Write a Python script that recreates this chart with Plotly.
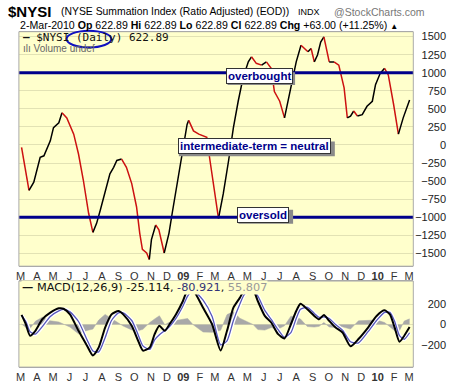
import plotly.graph_objects as go

# ---------------- data ----------------
nysi_dates = ["2008-03-03","2008-03-17","2008-03-26","2008-04-07","2008-04-14","2008-04-26","2008-05-02",
              "2008-05-12","2008-05-18","2008-05-27","2008-06-09","2008-06-18","2008-06-27","2008-07-07",
              "2008-07-15","2008-07-22","2008-07-29","2008-08-07","2008-08-16","2008-08-23","2008-08-29",
              "2008-09-07","2008-09-16","2008-09-26","2008-10-05","2008-10-11","2008-10-16","2008-10-24",
              "2008-10-29","2008-11-02","2008-11-10","2008-11-16","2008-11-26","2008-12-05","2008-12-11",
              "2008-12-17","2008-12-26","2009-01-02","2009-01-08","2009-01-11","2009-01-20","2009-01-30",
              "2009-02-08","2009-02-14","2009-02-20","2009-03-01","2009-03-08","2009-03-17","2009-03-27",
              "2009-04-05","2009-04-14","2009-04-23","2009-05-03","2009-05-09","2009-05-18","2009-05-28",
              "2009-06-06","2009-06-15","2009-06-21","2009-07-01","2009-07-10","2009-07-19","2009-08-01",
              "2009-08-10","2009-08-16","2009-08-23","2009-08-29","2009-09-04","2009-09-10","2009-09-16",
              "2009-09-22","2009-10-02","2009-10-11","2009-10-20","2009-10-30","2009-11-05","2009-11-11",
              "2009-11-17","2009-11-24","2009-12-03","2009-12-12","2009-12-22","2009-12-28","2010-01-06",
              "2010-01-14","2010-01-21","2010-01-31","2010-02-09","2010-02-18","2010-03-02"]
nysi_values = [-35,-630,-515,-170,-150,57,240,
               308,445,375,150,-125,-485,-945,
               -1210,-1085,-900,-630,-400,-310,-215,
               -195,-310,-535,-855,-1220,-1445,-1495,
               -1585,-1310,-1107,-1175,-1495,-1220,-945,
               -675,-310,10,285,340,195,150,
               125,105,-215,-675,-1015,-675,-215,
               240,605,925,1150,1220,1130,1105,
               1150,1060,740,605,375,695,1150,
               1380,1335,1290,1335,1150,1245,1425,
               1495,1150,1150,1105,790,375,400,
               470,400,420,535,605,835,995,
               1060,970,560,150,375,623]

macd_dates = ["2008-03-03","2008-03-11","2008-03-19","2008-03-29","2008-04-11","2008-04-26","2008-05-12",
              "2008-05-21","2008-06-02","2008-06-18","2008-07-04","2008-07-15","2008-07-26","2008-08-07",
              "2008-08-19","2008-09-01","2008-09-10","2008-09-26","2008-10-08","2008-10-17","2008-10-30",
              "2008-11-08","2008-11-17","2008-11-27","2008-12-06","2008-12-18","2008-12-31","2009-01-09",
              "2009-01-19","2009-02-07","2009-02-24","2009-03-12","2009-03-24","2009-04-05","2009-04-17",
              "2009-04-26","2009-05-12","2009-05-21","2009-06-03","2009-06-15","2009-06-28","2009-07-10",
              "2009-07-22","2009-08-01","2009-08-09","2009-08-22","2009-09-04","2009-09-13","2009-09-22",
              "2009-10-02","2009-10-14","2009-10-27","2009-11-11","2009-11-26","2009-12-14","2009-12-30",
              "2010-01-14","2010-01-24","2010-02-02","2010-02-11","2010-02-20","2010-03-02"]
macd_values = [95,3,-110,-62,52,117,160,
               156,100,-62,-208,-305,-225,-30,
               100,133,100,-13,-160,-257,-225,
               -95,-13,-62,3,100,230,340,
               340,166,3,-257,-62,166,263,
               340,340,230,85,20,-95,-137,
               3,133,205,150,85,52,95,
               36,-30,-78,-215,-143,-30,85,
               140,100,-30,-170,-110,-25]
signal_values = [90,30,-70,-95,-20,80,135,
                 150,125,30,-150,-260,-270,-130,
                 40,115,115,40,-100,-210,-245,
                 -150,-100,-60,-20,60,180,280,
                 340,240,80,-200,-160,40,200,
                 300,340,280,140,50,-50,-125,
                 -80,60,150,170,110,70,75,
                 60,0,-55,-170,-180,-70,40,
                 120,120,30,-110,-145,-81]

month_ticks = ["2008-03-01","2008-04-01","2008-05-01","2008-06-01","2008-07-01","2008-08-01","2008-09-01",
               "2008-10-01","2008-11-01","2008-12-01","2009-01-01","2009-02-01","2009-03-01","2009-04-01",
               "2009-05-01","2009-06-01","2009-07-01","2009-08-01","2009-09-01","2009-10-01","2009-11-01",
               "2009-12-01","2010-01-01","2010-02-01","2010-03-01"]
month_labels = ["M","A","M","J","J","A","S","O","N","D","<b>09</b>","F","M","A",
                "M","J","J","A","S","O","N","D","<b>10</b>","F","M"]
quarter_ticks = ["2008-04-01","2008-07-01","2008-10-01","2009-01-01","2009-04-01","2009-07-01",
                 "2009-10-01","2010-01-01"]
main_ticks = [1500,1250,1000,750,500,250,0,-250,-500,-750,-1000,-1250,-1500]
macd_ticks = [200,0,-200]
levels = [1000,-1000]

# ---------------- figure ----------------
W, H = 461, 383
FONT = "Liberation Sans, Arial, sans-serif"
BG = "#FFFFCC"
GRID = "#E2E2B4"
VGRID = "#C8C8A0"

fig = go.Figure()

# main line coloured by direction (black up, red down)
runs = []
start = 0
cur = None
for i in range(1, len(nysi_values)):
    up = nysi_values[i] >= nysi_values[i - 1]
    if cur is None:
        cur = up
    elif up != cur:
        runs.append((start, i - 1, cur))
        start = i - 1
        cur = up
runs.append((start, len(nysi_values) - 1, cur))
for s, e, up in runs:
    fig.add_trace(go.Scatter(x=nysi_dates[s:e + 1], y=nysi_values[s:e + 1], mode="lines",
                             line=dict(color="#000000" if up else "#CC1111", width=1.5),
                             xaxis="x", yaxis="y", showlegend=False, hoverinfo="skip"))

# MACD panel
hist = [m - s for m, s in zip(macd_values, signal_values)]
fig.add_trace(go.Scatter(x=macd_dates, y=hist, mode="lines", fill="tozeroy",
                         line=dict(color="#A8A8A8", width=0.5), fillcolor="#A8A8A8",
                         xaxis="x2", yaxis="y2", showlegend=False))
fig.add_trace(go.Scatter(x=macd_dates, y=signal_values, mode="lines",
                         line=dict(color="#FFFFFF", width=4, shape="spline", smoothing=0.6),
                         xaxis="x2", yaxis="y2", showlegend=False))
fig.add_trace(go.Scatter(x=macd_dates, y=signal_values, mode="lines",
                         line=dict(color="#5555BB", width=1.3, shape="spline", smoothing=0.6),
                         xaxis="x2", yaxis="y2", showlegend=False))
fig.add_trace(go.Scatter(x=macd_dates, y=macd_values, mode="lines",
                         line=dict(color="#000000", width=2, shape="spline", smoothing=0.6),
                         xaxis="x2", yaxis="y2", showlegend=False))

xdom = [16 / W, 413 / W]
ydom_main = [1 - 268 / H, 1 - 31 / H]
ydom_macd = [1 - 370 / H, 1 - 283 / H]
xrange = ["2008-02-27", "2010-03-09"]
ypos = 446 / W

common_x = dict(domain=xdom, range=xrange, type="date", tickmode="array", tickvals=month_ticks,
                ticktext=month_labels, showgrid=False, ticks="", zeroline=False,
                tickfont=dict(family=FONT, size=11, color="#333333"), showline=True,
                linecolor="#AAAAAA", mirror=True)

fig.update_layout(
    width=W, height=H, margin=dict(l=0, r=0, t=0, b=0),
    paper_bgcolor="#FFFFFF", plot_bgcolor=BG, showlegend=False,
    xaxis=dict(common_x, anchor="y"),
    xaxis2=dict(common_x, anchor="y2"),
    xaxis3=dict(domain=xdom, range=xrange, type="date", overlaying="x", matches="x", anchor="y",
                tickmode="array", tickvals=quarter_ticks, showticklabels=False, ticks="",
                showgrid=True, gridcolor=VGRID, gridwidth=1),
    xaxis4=dict(domain=xdom, range=xrange, type="date", overlaying="x2", matches="x2", anchor="y2",
                tickmode="array", tickvals=quarter_ticks, showticklabels=False, ticks="",
                showgrid=True, gridcolor=VGRID, gridwidth=1),
    yaxis=dict(domain=ydom_main, range=[-1678, 1568], anchor="free", position=ypos, side="left",
               tickmode="array", tickvals=main_ticks, showgrid=True, gridcolor=GRID, zeroline=False,
               ticks="", showline=False, tickfont=dict(family=FONT, size=11, color="#222222")),
    yaxis2=dict(domain=ydom_macd, range=[-420, 429], anchor="free", position=ypos, side="left",
                tickmode="array", tickvals=macd_ticks, showgrid=True, gridcolor=GRID, zeroline=False,
                ticks="", showline=False, tickfont=dict(family=FONT, size=11, color="#222222")),
)

shapes = []
for lv in levels:
    shapes.append(dict(type="line", xref="x domain", yref="y", x0=0, x1=1, y0=lv, y1=lv,
                       line=dict(color="#00008B", width=3), layer="above"))
for yr in ["y domain", "y2 domain"]:
    xr = "x domain" if yr == "y domain" else "x2 domain"
    shapes.append(dict(type="rect", xref=xr, yref=yr, x0=0, x1=1, y0=0, y1=1,
                       line=dict(color="#AAAAAA", width=1), layer="above"))
# hand-drawn ellipse around "(Daily)"
shapes.append(dict(type="circle", xref="paper", yref="paper", x0=64 / W, x1=109 / W,
                   y0=1 - 47 / H, y1=1 - 30 / H, line=dict(color="#1010C0", width=2), layer="above"))
# drop shadows for the label boxes (pixel boxes of the labels, offset by 2px)
for (x0, x1, y0, y1) in [(224, 292, 70, 83), (175, 332, 140, 155), (235, 290, 209, 223)]:
    shapes.append(dict(type="rect", xref="paper", yref="paper", x0=(x0 + 2) / W, x1=(x1 + 2) / W,
                       y0=1 - (y1 + 2) / H, y1=1 - (y0 + 2) / H, fillcolor="#8A8A8A",
                       line=dict(width=0), layer="above"))
fig.update_layout(shapes=shapes)

ann = []
def txt(x, y, text, size=11, color="#000", bold=False, family=FONT, xanchor="left", **kw):
    t = "<b>%s</b>" % text if bold else text
    ann.append(dict(xref="paper", yref="paper", x=x / W, y=1 - y / H, text=t, showarrow=False,
                    xanchor=xanchor, yanchor="middle", font=dict(family=family, size=size, color=color), **kw))

# header
txt(3, 11, "$NYSI", size=15, bold=True)
txt(56, 11, "(NYSE Summation Index (Ratio Adjusted) (EOD))", size=10.4)
txt(295, 11, "INDX", size=9)
txt(331, 11, "@StockCharts.com", size=10.5, color="#777777")
txt(15, 24, "2-Mar-2010 <b>Op</b> 622.89 <b>Hi</b> 622.89 <b>Lo</b> 622.89 <b>Cl</b> 622.89 "
             "<b>Chg</b> +63.00 (+11.25%) <span style='font-size:8px'>▲</span>", size=10.6)

# in-plot legends
txt(18, 37, "<b>—</b> $NYSI (Daily) 622.89", size=11, color="#111111", family="DejaVu Sans Mono, monospace")
txt(18, 48, "ılı Volume undef", size=10, color="#666666")
ann.append(dict(xref="paper", yref="paper", x=18 / W, y=1 - 290 / H, xanchor="left", yanchor="middle",
                showarrow=False, bgcolor=BG, borderpad=0,
                text="<b>—</b> MACD(12,26,9) -25.114, <span style='color:#333377'>-80.921</span>, "
                     "<span style='color:#999999'>55.807</span>",
                font=dict(family="DejaVu Sans, sans-serif", size=11.3, color="#111111")))

# labelled boxes
for cx, cy, t in [(258, 76, "overbought"), (253, 147, "intermediate-term = neutral"), (262, 216, "oversold")]:
    ann.append(dict(xref="paper", yref="paper", x=cx / W, y=1 - cy / H, text="<b>%s</b>" % t,
                    showarrow=False, xanchor="center", yanchor="middle",
                    bgcolor="#FFFFFF", bordercolor="#333333", borderwidth=1, borderpad=1,
                    font=dict(family=FONT, size=11.5, color="#00008B")))
fig.update_layout(annotations=ann)

fig.write_html("out.html", config={"displayModeBar": False},
               post_script="document.body.style.margin='0px';document.body.style.overflow='hidden';")
